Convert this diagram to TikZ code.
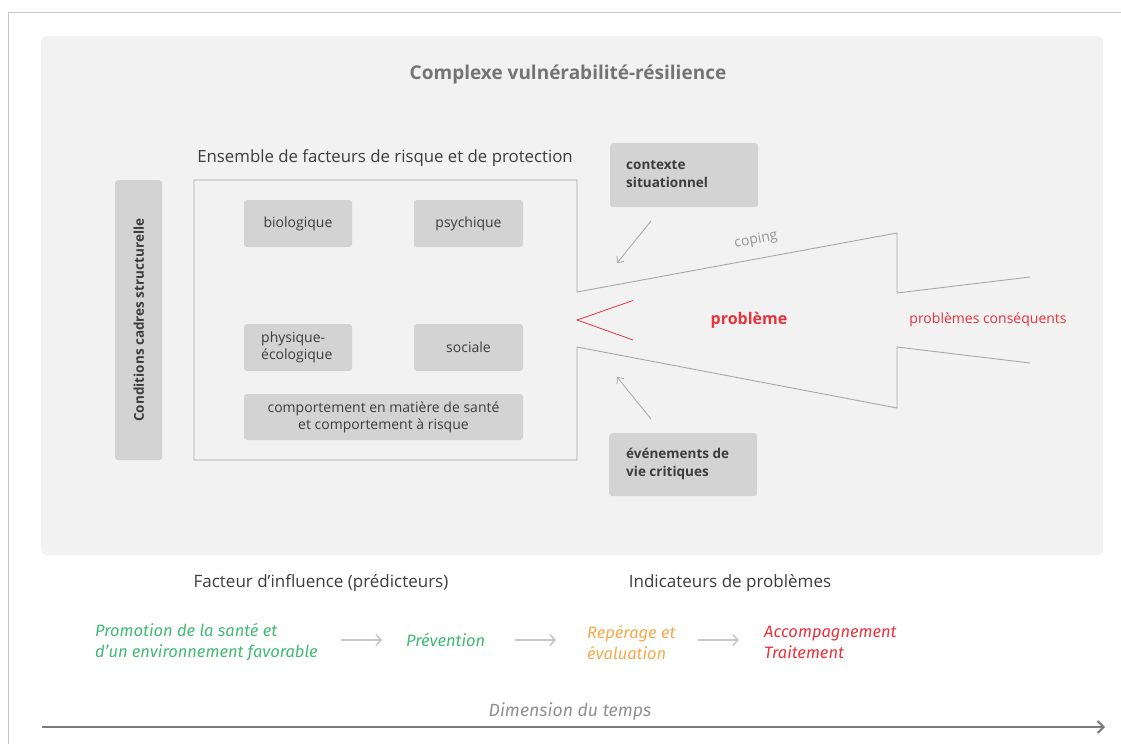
\documentclass[tikz,border=0pt]{standalone}
\usepackage{fontspec}
\setmainfont{Open Sans}
\newfontfamily\fira{Fira Sans}
\usetikzlibrary{arrows.meta}
\definecolor{panel}{HTML}{F2F2F2}
\definecolor{boxg}{HTML}{D3D3D4}
\definecolor{txt}{HTML}{3C3C3C}
\definecolor{ttl}{HTML}{747474}
\definecolor{lineg}{HTML}{A8A8A8}
\definecolor{redc}{HTML}{E8323C}
\definecolor{greenc}{HTML}{40BA72}
\definecolor{orangec}{HTML}{F6A94C}
\definecolor{lightarr}{HTML}{C8C8C8}
\definecolor{timec}{HTML}{7C7C7C}
\definecolor{framec}{HTML}{C4C4C4}
\tikzset{
  gbox/.style={fill=boxg, rounded corners=3pt, draw=none, text=txt, font=\fontsize{14}{17}\selectfont, inner sep=0},
  hbox/.style={fill=boxg, rounded corners=3pt, draw=none, inner sep=0},
  boldtxt/.style={text=txt, font=\fontsize{13.5}{18}\selectfont\bfseries, align=left, inner sep=0, anchor=west},
  itxt/.style={font=\fontsize{16.5}{21}\selectfont\fira\itshape, align=left, inner sep=0, anchor=west},
  outline/.style={draw=lineg, line width=0.9pt, line join=round},
  smallarr/.style={draw=lineg, line width=0.8pt, -{Straight Barb[length=5pt,width=9pt]}},
  flowarr/.style={draw=lightarr, line width=1.6pt, -{Straight Barb[length=5pt,width=11pt]}},
}
\begin{document}
\begin{tikzpicture}[x=1pt,y=-1pt]
\useasboundingbox (0,0) rectangle (1121,744);
% outer frame lines
\draw[framec, line width=1.2pt] (8.5,744) -- (8.5,12.5) -- (1121,12.5);
% panel
\node[fill=panel, rounded corners=6pt, minimum width=1062pt, minimum height=519pt, inner sep=0, anchor=north west] (panel) at (41,36) {};
\node[text=ttl, font=\fontsize{19}{22}\selectfont\bfseries] (title) at (568,75) {Complexe vulnérabilité-résilience};
\node[text=txt, font=\fontsize{16.8}{20}\selectfont] (ens) at (385,158.5) {Ensemble de facteurs de risque et de protection};

% left vertical box
\node[hbox, minimum width=47pt, minimum height=280pt, anchor=north west] (cond) at (115,180) {};
\node[rotate=90, text=txt, font=\fontsize{13.5}{17}\selectfont\bfseries] (condt) at (cond.center) {Conditions cadres structurelle};

% inner boxes
\node[gbox, minimum width=108pt, minimum height=47pt] (bio) at (298,223.5) {biologique};
\node[gbox, minimum width=109pt, minimum height=47pt] (psy) at (468.5,223.5) {psychique};
\node[gbox, minimum width=108pt, minimum height=47pt] (phy) at (298,347.5) {};
\node[gbox, align=left, anchor=west] (phyt) at (261,347.5) {physique-\\écologique};
\node[gbox, minimum width=109pt, minimum height=47pt] (soc) at (468.5,347.5) {sociale};
\node[gbox, minimum width=279pt, minimum height=46pt, align=center] (comp) at (383.5,417) {comportement en matière de santé\\et comportement à risque};

% frame + funnel
\coordinate (ftr) at (577,180);
\coordinate (fbr) at (577,460);
\coordinate (u1) at (577,292);
\coordinate (u2) at (897,233);
\coordinate (u3) at (897,293);
\coordinate (u4) at (1030,277);
\coordinate (l1) at (577,347);
\coordinate (l2) at (897,408);
\coordinate (l3) at (897,347);
\coordinate (l4) at (1030,363);
\draw[outline] (u4) -- (u3) -- (u2) -- (u1) -- (ftr) -- (194,180) -- (194,460) -- (fbr) -- (l1) -- (l2) -- (l3) -- (l4);

% red chevron
\coordinate (ch0) at (577,320);
\coordinate (ch1) at (633,300.5);
\coordinate (ch2) at (633,340);
\draw[redc, line width=0.8pt] (ch1) -- (ch0) -- (ch2);

\node[text=redc, font=\fontsize{16}{20}\selectfont\bfseries] (prob) at (749,320.5) {problème};
\node[text=redc, font=\fontsize{14}{18}\selectfont] (probc) at (988,320) {problèmes conséquents};
\node[text=timec!80, rotate=10, font=\fontsize{14}{17}\selectfont] (coping) at (756,240) {coping};

% side boxes
\node[hbox, minimum width=148pt, minimum height=64pt, anchor=north west] (ctx) at (610,143) {};
\node[boldtxt] (ctxt) at (626,174) {contexte\\situationnel};
\node[hbox, minimum width=148pt, minimum height=63pt, anchor=north west] (evt) at (609,433) {};
\node[boldtxt] (evtt) at (626,464) {événements de\\vie critiques};

\coordinate (a1s) at (651,221);
\coordinate (a1e) at (617,263);
\coordinate (a2s) at (651,419);
\coordinate (a2e) at (617,377);
\draw[smallarr] (a1s) -- (a1e);
\draw[smallarr] (a2s) -- (a2e);

% bottom headings
\node[text=txt, font=\fontsize{17}{20}\selectfont] (fact) at (321,583.5) {Facteur d’influence (prédicteurs)};
\node[text=txt, font=\fontsize{17}{20}\selectfont] (ind) at (730,583.5) {Indicateurs de problèmes};

% flow
\node[itxt, text=greenc] (prom) at (95,642) {Promotion de la santé et\\d’un environnement favorable};
\node[itxt, text=greenc] (prev) at (406,640) {Prévention};
\node[itxt, text=orangec] (rep) at (587,642) {Repérage et\\évaluation};
\node[itxt, text=redc] (acc) at (764,642) {Accompagnement\\Traitement};

\draw[flowarr] (341,640) -- (382,640);
\draw[flowarr] (515,640) -- (556,640);
\draw[flowarr] (698,640) -- (739,640);

% time
\node[text=timec!85, font=\fontsize{17.7}{20}\selectfont\fira\itshape] (dim) at (570,711) {Dimension du temps};
\coordinate (t0) at (42,727);
\coordinate (t1) at (1105,727);
\draw[timec, line width=2pt, -{Straight Barb[length=6pt,width=12pt]}] (t0) -- (t1);
\end{tikzpicture}
\end{document}
